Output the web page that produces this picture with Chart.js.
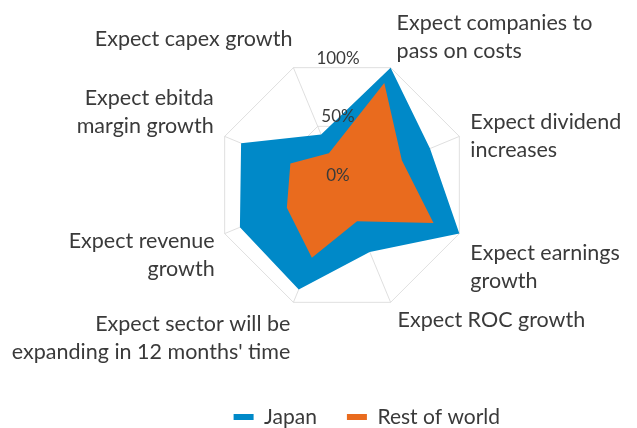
<!DOCTYPE html>
<html>
<head>
<meta charset="utf-8">
<script src="https://cdn.jsdelivr.net/npm/chart.js@4/dist/chart.umd.min.js"></script>
<style>
  body { margin: 0; background: #fff; }
  #wrap { width: 637px; height: 428px; position: relative; }
</style>
</head>
<body>
<div id="wrap"><canvas id="radarChart"></canvas></div>
<script>
const categories = [
  ["Expect companies to", "pass on costs"],
  ["Expect dividend", "increases"],
  ["Expect earnings", "growth"],
  ["Expect ROC growth"],
  ["Expect sector will be", "expanding in 12 months' time"],
  ["Expect revenue", "growth"],
  ["Expect ebitda", "margin growth"],
  ["Expect capex growth"],
];
const japan = [100, 75, 100, 57, 89, 87, 86, 43];
const restOfWorld = [87, 51, 78, 31, 62, 47, 44, 27];
const tickValues = [0, 50, 100];

const fontFamily = "Lato, 'Noto Sans', sans-serif";
const textColor = "#3a3a3a";

// where each category label sits relative to its outer vertex: dx, dy (first baseline), align
const labelPlacement = [
  [6, -38, "left"],
  [11, -7, "left"],
  [11, 26, "left"],
  [7, 25, "left"],
  [-3, 29, "right"],
  [-10, 14, "right"],
  [-11, -31, "right"],
  [-1, -22, "right"],
];

const radarText = {
  id: "radarText",
  afterDraw(chart) {
    const scale = chart.scales.r;
    const ctx = chart.ctx;
    ctx.save();
    ctx.fillStyle = textColor;
    ctx.textBaseline = "alphabetic";

    // category labels
    ctx.font = "21.5px " + fontFamily;
    categories.forEach((lines, i) => {
      const p = scale.getPointPosition(i, scale.drawingArea);
      const [dx, dy, align] = labelPlacement[i];
      ctx.textAlign = align;
      lines.forEach((line, j) => {
        ctx.fillText(line, p.x + dx, p.y + dy + j * 28);
      });
    });

    // tick labels, upright on the vertical line
    ctx.font = "17px " + fontFamily;
    ctx.textAlign = "center";
    const tilt = Math.cos((22.5 * Math.PI) / 180);
    tickValues.forEach((v) => {
      const r = scale.getDistanceFromCenterForValue(v);
      ctx.fillText(v + "%", scale.xCenter - 4, scale.yCenter - r * tilt - 4);
    });
    ctx.restore();
  },
};

new Chart(document.getElementById("radarChart"), {
  type: "radar",
  data: {
    labels: categories,
    datasets: [
      {
        label: "Japan",
        data: japan,
        backgroundColor: "#0089c8",
        borderColor: "#0089c8",
        borderWidth: 0,
        fill: true,
        pointRadius: 0,
        order: 1,
      },
      {
        label: "Rest of world",
        data: restOfWorld,
        backgroundColor: "#e96b1e",
        borderColor: "#e96b1e",
        borderWidth: 0,
        fill: true,
        pointRadius: 0,
        order: 0,
      },
    ],
  },
  options: {
    responsive: true,
    maintainAspectRatio: false,
    animation: false,
    layout: {
      padding: { left: 154, right: 107, top: 58, bottom: -9.5 },
    },
    plugins: {
      tooltip: { enabled: false },
      legend: {
        position: "bottom",
        align: "end",
        // empty title only pushes the legend row down to the bottom edge
        title: {
          display: true,
          text: "",
          font: { size: 12, lineHeight: 1 },
          padding: { top: 52.5, bottom: 0 },
        },
        labels: {
          boxWidth: 20,
          boxHeight: 6,
          padding: 30,
          color: textColor,
          font: { family: fontFamily, size: 21 },
          sort: (a, b) => a.datasetIndex - b.datasetIndex,
        },
      },
    },
    scales: {
      r: {
        z: 1,
        min: 0,
        max: 100,
        startAngle: 22.5,
        ticks: { display: false, stepSize: 50 },
        pointLabels: { display: false },
        grid: { color: "rgba(210,210,210,0.7)", lineWidth: 1 },
        angleLines: { color: "rgba(210,210,210,0.7)", lineWidth: 1 },
      },
    },
  },
  plugins: [radarText],
});
</script>
</body>
</html>
